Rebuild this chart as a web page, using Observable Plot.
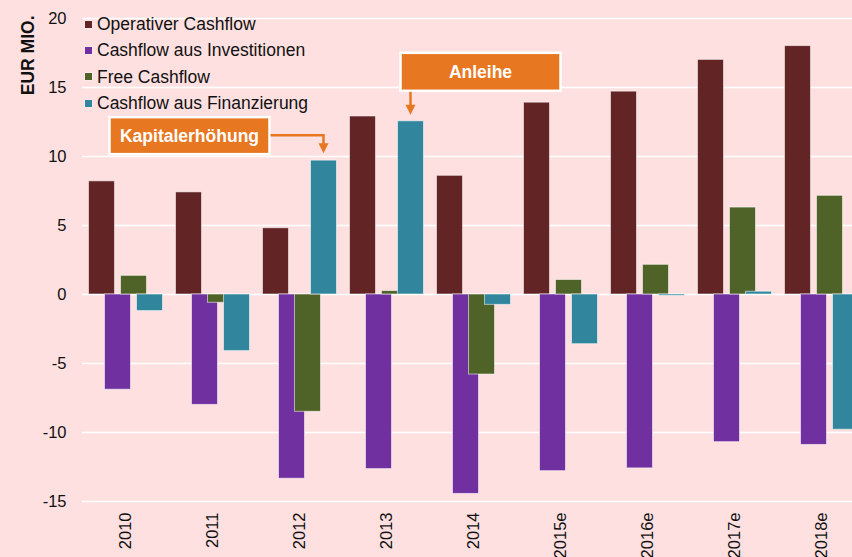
<!DOCTYPE html>
<html>
<head>
<meta charset="utf-8">
<script src="https://cdn.jsdelivr.net/npm/d3@7"></script>
<script src="https://cdn.jsdelivr.net/npm/@observablehq/plot@0.6"></script>
<style>
  html, body { margin: 0; padding: 0; background: #FFE0E0; overflow: hidden; }
  #wrap { position: relative; width: 852px; height: 557px; overflow: hidden; background: #FFE0E0; }
  #chart svg { display: block; max-width: none !important; }
  .legend { position: absolute; left: 85px; top: 11px; font: 17.5px "Liberation Sans", Arial, sans-serif; color: #111; }
  .legend .row { height: 26.4px; line-height: 26.4px; display: flex; align-items: center; white-space: nowrap; }
  .legend .sw { width: 7px; height: 7px; margin-right: 5px; box-shadow: 0 0 0 0.5px rgba(255,255,255,0.6); }
</style>
</head>
<body>
<div id="wrap">
  <div id="chart"></div>
  <div class="legend" id="legend"></div>
</div>
<script>
// ---- data ----
const years = ["2010", "2011", "2012", "2013", "2014", "2015e", "2016e", "2017e", "2018e"];
const operativerCashflow      = [8.2, 7.4, 4.8, 12.9, 8.6, 13.9, 14.7, 17.0, 18.0];
const cashflowInvestitionen   = [-6.9, -8.0, -13.35, -12.65, -14.45, -12.8, -12.6, -10.7, -10.9];
const freeCashflow            = [1.35, -0.6, -8.5, 0.25, -5.8, 1.05, 2.15, 6.3, 7.15];
const cashflowFinanzierung    = [-1.2, -4.1, 9.7, 12.55, -0.75, -3.6, -0.1, 0.2, -9.8];
const seriesNames = ["Operativer Cashflow", "Cashflow aus Investitionen", "Free Cashflow", "Cashflow aus Finanzierung"];
const seriesColors = ["#622424", "#7030A0", "#4F6228", "#31859C"];
const yTicks = [-15, -10, -5, 0, 5, 10, 15, 20];
const yLabel = "EUR MIO.";
const annotations = [
  { label: "Anleihe", year: "2013", value: 12.55 },
  { label: "Kapitalerhöhung", year: "2012", value: 9.7 }
];

// ---- chart ----
const seriesValues = [operativerCashflow, cashflowInvestitionen, freeCashflow, cashflowFinanzierung];
const offsets = [-24, -8, 8, 24];
const font = '"Liberation Sans", Arial, sans-serif';

const chart = Plot.plot({
  width: 865,
  height: 557,
  marginLeft: 82,
  marginRight: 0,
  marginTop: 18,
  marginBottom: 56,
  style: { background: "#FFE0E0", fontFamily: font, fontSize: "16.5px", color: "#111" },
  x: { domain: years, padding: 0, tickSize: 0, tickPadding: 11, tickRotate: -90, label: null },
  y: { domain: [-15, 20], ticks: yTicks, tickSize: 0, tickPadding: 16, label: null, tickFormat: d => String(d) },
  marks: [
    Plot.gridY(yTicks, { stroke: "#ffffff", strokeOpacity: 1, strokeWidth: 1.3 }),
    ...seriesValues.map((vals, i) =>
      Plot.barY(years.map((yr, j) => ({ year: yr, value: vals[j] })), {
        x: "year", y: "value",
        fill: seriesColors[i],
        stroke: "#ffffff", strokeOpacity: 0.55, strokeWidth: 1,
        insetLeft: 30.5, insetRight: 30.5, dx: offsets[i]
      })
    ),
    Plot.text([yLabel], {
      frameAnchor: "top-left", rotate: -90, textAnchor: "end",
      dx: -61, dy: -3, fontWeight: "bold", fontSize: 17.5, fill: "#111"
    })
  ]
});
chart.style.maxWidth = "none";
chart.style.height = "557px";
document.getElementById("chart").appendChild(chart);

// ---- legend ----
const legend = d3.select("#legend");
seriesNames.forEach((name, i) => {
  const row = legend.append("div").attr("class", "row");
  row.append("div").attr("class", "sw").style("background", seriesColors[i]);
  row.append("span").text(name);
});

// ---- annotations (positioned from the chart's scales) ----
const xs = chart.scale("x"), ys = chart.scale("y");
const svg = d3.select(chart);
const orange = "#E87722";
const g = svg.append("g");
function box(left, top, w, h, label) {
  g.append("rect").attr("x", left).attr("y", top).attr("width", w).attr("height", h)
    .attr("fill", orange).attr("stroke", "#ffffff").attr("stroke-width", 2.5);
  g.append("text").attr("x", left + w / 2).attr("y", top + h / 2).attr("dy", "0.35em")
    .attr("text-anchor", "middle").attr("fill", "#ffffff").attr("font-weight", "bold")
    .attr("font-size", 17.5).attr("font-family", font).text(label);
}
function head(cx, tip) {
  g.append("path").attr("d", `M${cx - 5},${tip - 10}L${cx + 5},${tip - 10}L${cx},${tip}Z`).attr("fill", orange);
}
{
  const a = annotations[0];
  const cx = xs.apply(a.year) + xs.bandwidth / 2 + offsets[3];
  const tip = ys.apply(a.value) - 6;
  const bottom = tip - 24;
  box(cx - 10, bottom - 38, 160, 38, a.label);
  g.append("path").attr("d", `M${cx},${bottom + 1}V${tip - 8}`).attr("stroke", orange).attr("stroke-width", 2.5).attr("fill", "none");
  head(cx, tip);
}
{
  const a = annotations[1];
  const cx = xs.apply(a.year) + xs.bandwidth / 2 + offsets[3];
  const tip = ys.apply(a.value) - 7;
  const elbow = tip - 18;
  const right = cx - 54;
  box(right - 160, elbow - 18, 160, 37, a.label);
  g.append("path").attr("d", `M${right + 1},${elbow}H${cx}V${tip - 8}`).attr("stroke", orange).attr("stroke-width", 2.5).attr("fill", "none");
  head(cx, tip);
}
</script>
</body>
</html>
